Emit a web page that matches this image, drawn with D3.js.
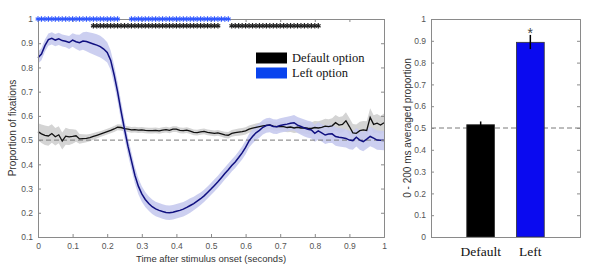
<!DOCTYPE html>
<html>
<head>
<meta charset="utf-8">
<script src="https://cdn.jsdelivr.net/npm/d3@7"></script>
<style>
  body { margin: 0; background: #fff; }
  svg { display: block; }
  .tick text { font-family: "Liberation Sans", Arial, sans-serif; font-size: 8.5px; fill: #555; }
</style>
</head>
<body>
<div id="plot"></div>
<script>
// time course, sampled every 10 ms from 0 to 1 s
let leftMean = [0.84,0.855,0.89,0.915,0.92,0.913,0.918,0.911,0.908,0.903,
  0.913,0.906,0.902,0.909,0.907,0.902,0.897,0.892,0.886,0.876,
  0.862,0.83,0.77,0.70,0.62,0.545,0.475,0.415,0.355,0.31,
  0.278,0.255,0.238,0.225,0.216,0.21,0.205,0.201,0.2,0.202,
  0.206,0.21,0.215,0.222,0.23,0.238,0.248,0.258,0.27,0.284,
  0.298,0.313,0.328,0.345,0.362,0.378,0.395,0.41,0.428,0.447,
  0.47,0.497,0.515,0.53,0.54,0.553,0.56,0.562,0.556,0.555,
  0.56,0.563,0.566,0.57,0.572,0.562,0.556,0.55,0.545,0.542,
  0.528,0.538,0.53,0.521,0.525,0.526,0.515,0.512,0.51,0.507,
  0.5,0.498,0.512,0.5,0.494,0.504,0.515,0.508,0.5,0.499,0.498];
let leftErr = [0.025,0.025,0.025,0.025,0.025,0.025,0.025,0.025,0.025,0.027,
  0.028,0.03,0.033,0.036,0.04,0.042,0.044,0.045,0.045,0.044,
  0.042,0.04,0.04,0.04,0.04,0.038,0.036,0.035,0.034,0.033,
  0.032,0.031,0.03,0.03,0.03,0.03,0.03,0.03,0.03,0.03,
  0.03,0.03,0.03,0.03,0.03,0.028,0.027,0.026,0.025,0.025,
  0.025,0.025,0.025,0.025,0.025,0.025,0.025,0.025,0.026,0.027,
  0.028,0.028,0.029,0.03,0.03,0.03,0.03,0.03,0.03,0.03,
  0.03,0.03,0.03,0.03,0.032,0.033,0.034,0.035,0.035,0.035,
  0.035,0.036,0.036,0.037,0.037,0.038,0.038,0.038,0.038,0.038,
  0.038,0.038,0.038,0.04,0.04,0.04,0.04,0.04,0.04,0.04,0.04];
let defaultMean = [0.535,0.526,0.52,0.517,0.527,0.514,0.522,0.496,0.516,0.513,
  0.515,0.518,0.505,0.506,0.507,0.51,0.515,0.52,0.525,0.53,
  0.535,0.54,0.546,0.553,0.552,0.547,0.545,0.542,0.543,0.541,
  0.542,0.54,0.539,0.539,0.54,0.538,0.541,0.543,0.54,0.545,
  0.545,0.54,0.539,0.541,0.537,0.532,0.531,0.534,0.536,0.532,
  0.53,0.528,0.53,0.526,0.522,0.52,0.528,0.531,0.533,0.535,
  0.538,0.545,0.549,0.553,0.556,0.559,0.561,0.563,0.558,0.556,
  0.557,0.556,0.552,0.554,0.55,0.553,0.55,0.551,0.549,0.548,
  0.552,0.55,0.553,0.558,0.556,0.559,0.572,0.562,0.565,0.58,
  0.556,0.53,0.528,0.539,0.542,0.54,0.594,0.565,0.57,0.562,0.572];
let defaultErr = [0.035,0.038,0.04,0.04,0.038,0.036,0.035,0.035,0.035,0.033,
  0.03,0.025,0.02,0.018,0.016,0.015,0.014,0.013,0.012,0.012,
  0.012,0.012,0.012,0.012,0.012,0.012,0.012,0.012,0.012,0.012,
  0.012,0.012,0.012,0.012,0.012,0.012,0.012,0.012,0.012,0.012,
  0.012,0.012,0.012,0.012,0.012,0.012,0.012,0.012,0.012,0.012,
  0.012,0.012,0.012,0.012,0.013,0.013,0.014,0.014,0.015,0.015,
  0.015,0.015,0.015,0.016,0.016,0.016,0.017,0.017,0.018,0.018,
  0.018,0.019,0.02,0.02,0.021,0.022,0.023,0.024,0.025,0.026,
  0.027,0.028,0.029,0.03,0.03,0.031,0.032,0.033,0.034,0.035,
  0.035,0.036,0.036,0.037,0.037,0.038,0.038,0.038,0.038,0.038,0.038];

// significance windows (seconds)
let leftSig = [[0.0, 0.235], [0.27, 0.555]];
let defaultSig = [[0.16, 0.525], [0.56, 0.81]];

let timeTicks = [0,0.1,0.2,0.3,0.4,0.5,0.6,0.7,0.8,0.9,1];
let propTicks = [0.1,0.2,0.3,0.4,0.5,0.6,0.7,0.8,0.9,1];

// bar chart: 0-200 ms averaged proportion
let barNames = ['Default', 'Left'];
let barValues = [0.515, 0.893];
let barErrLo = [0.505, 0.862];
let barErrHi = [0.53, 0.927];
let barTicks = [0,0.1,0.2,0.3,0.4,0.5,0.6,0.7,0.8,0.9,1];

let svg = d3.select('#plot').append('svg')
  .attr('width', 599).attr('height', 277);

let axisColor = '#8a8a8a';
let time = leftMean.map((d,i) => i/100);

// ---------- left panel ----------
let x = d3.scaleLinear().domain([0,1]).range([38,384]);
let y = d3.scaleLinear().domain([0.1,1]).range([237,19]);

let left = svg.append('g');

let band = d3.area().x((d,i) => x(time[i]));
let line = d3.line().x((d,i) => x(time[i]));

left.append('path')
  .datum(defaultMean)
  .attr('fill', '#d4d4d4')
  .attr('d', band.y0((d,i) => y(d - defaultErr[i])).y1((d,i) => y(d + defaultErr[i])));

left.append('path')
  .datum(leftMean)
  .attr('fill', '#c6caee')
  .attr('opacity', 0.9)
  .attr('d', band.y0((d,i) => y(d - leftErr[i])).y1((d,i) => y(d + leftErr[i])));

left.append('line')
  .attr('x1', x(0)).attr('x2', x(1))
  .attr('y1', y(0.5)).attr('y2', y(0.5))
  .attr('stroke', '#7a7a7a').attr('stroke-dasharray', '5,3').attr('stroke-width', 1);

left.append('path')
  .datum(defaultMean)
  .attr('fill', 'none').attr('stroke', '#111').attr('stroke-width', 1.3)
  .attr('d', line.y(d => y(d)));

left.append('path')
  .datum(leftMean)
  .attr('fill', 'none').attr('stroke', '#101080').attr('stroke-width', 1.5)
  .attr('d', line.y(d => y(d)));

// axes with inward ticks, boxed like matlab
function boxAxes(g, xs, ys, xt, yt, showX) {
  let ax = d3.axisBottom(xs).tickValues(xt).tickSize(-3).tickPadding(6)
    .tickFormat(d3.format('~g'));
  let ay = d3.axisLeft(ys).tickValues(yt).tickSize(-3).tickPadding(5)
    .tickFormat(d3.format('~g'));
  let gx = g.append('g').attr('transform', `translate(0,${ys.range()[0]})`).call(ax);
  if (!showX) gx.selectAll('.tick').remove();
  g.append('g').attr('transform', `translate(${xs.range()[0]},0)`).call(ay);
  g.append('g').attr('transform', `translate(0,${ys.range()[1]})`)
    .call(d3.axisTop(xs).tickValues(showX ? xt : []).tickSize(-3).tickFormat(''));
  g.append('g').attr('transform', `translate(${xs.range()[1]},0)`)
    .call(d3.axisRight(ys).tickValues(yt).tickSize(-3).tickFormat(''));
  g.selectAll('.domain').attr('stroke', axisColor);
  g.selectAll('.tick line').attr('stroke', axisColor);
}
boxAxes(left, x, y, timeTicks, propTicks, true);

// significance asterisks
function star(r) {
  let p = '';
  for (let k = 0; k < 3; k++) {
    let a = Math.PI / 2 + k * Math.PI / 3;
    let dx = r * Math.cos(a), dy = r * Math.sin(a);
    p += `M${-dx},${-dy}L${dx},${dy}`;
  }
  return p;
}
function sigTimes(windows) {
  return time.filter(t => windows.some(w => t >= w[0] - 1e-9 && t <= w[1] + 1e-9));
}
left.selectAll('.starL')
  .data(sigTimes(leftSig))
  .join('path')
    .attr('class', 'starL')
    .attr('transform', d => `translate(${x(d)},${y(1)})`)
    .attr('d', star(2.7))
    .attr('stroke', '#3058ff').attr('stroke-width', 1.2);
left.selectAll('.starD')
  .data(sigTimes(defaultSig))
  .join('path')
    .attr('class', 'starD')
    .attr('transform', d => `translate(${x(d)},${y(0.972)})`)
    .attr('d', star(2.7))
    .attr('stroke', '#222').attr('stroke-width', 1.2);

// legend
let legend = left.append('g').attr('font-family', '"Liberation Serif", "Times New Roman", serif')
  .attr('font-size', 12.5).attr('fill', '#111');
[['Default option', '#000'], ['Left option', '#0a44ee']].forEach(function(item, i){
  legend.append('rect')
    .attr('x', 256).attr('y', 52.5 + i * 15).attr('width', 31).attr('height', 11)
    .attr('fill', item[1]);
  legend.append('text')
    .attr('x', 292).attr('y', 62 + i * 15)
    .text(item[0]);
});

left.append('text')
  .attr('x', 211).attr('y', 262)
  .attr('text-anchor', 'middle')
  .attr('font-family', '"Liberation Sans", Arial, sans-serif')
  .attr('font-size', 9.5).attr('fill', '#333')
  .text('Time after stimulus onset (seconds)');

left.append('text')
  .attr('transform', 'translate(16,128) rotate(-90)')
  .attr('text-anchor', 'middle')
  .attr('font-family', '"Liberation Sans", Arial, sans-serif')
  .attr('font-size', 10).attr('fill', '#333')
  .text('Proportion of fixations');

// ---------- right panel ----------
let bx = d3.scaleLinear().domain([0,3]).range([431,580]);
let by = d3.scaleLinear().domain([0,1]).range([237,19]);
let right = svg.append('g');

right.append('line')
  .attr('x1', bx(0)).attr('x2', bx(3))
  .attr('y1', by(0.5)).attr('y2', by(0.5))
  .attr('stroke', '#7a7a7a').attr('stroke-dasharray', '5,3');

let barW = 0.56;
right.selectAll('.bar')
  .data(barValues)
  .join('rect')
    .attr('class', 'bar')
    .attr('x', (d,i) => bx(i + 1 - barW / 2))
    .attr('width', bx(barW) - bx(0))
    .attr('y', d => by(d))
    .attr('height', d => by(0) - by(d))
    .attr('fill', (d,i) => i === 0 ? '#000' : '#0a0af0')
    .attr('stroke', '#333').attr('stroke-width', 0.8);

right.selectAll('.err')
  .data(barValues)
  .join('line')
    .attr('class', 'err')
    .attr('x1', (d,i) => bx(i + 1)).attr('x2', (d,i) => bx(i + 1))
    .attr('y1', (d,i) => by(barErrLo[i])).attr('y2', (d,i) => by(barErrHi[i]))
    .attr('stroke', '#000').attr('stroke-width', 1.5);

boxAxes(right, bx, by, [], barTicks, false);

right.append('text')
  .attr('x', bx(2)).attr('y', by(barErrHi[1]) + 3)
  .attr('text-anchor', 'middle')
  .attr('font-family', '"Liberation Sans", Arial, sans-serif')
  .attr('font-size', 14).attr('fill', '#444')
  .text('*');

right.selectAll('.barLabel')
  .data(barNames)
  .join('text')
    .attr('class', 'barLabel')
    .attr('x', (d,i) => bx(i + 1)).attr('y', 256)
    .attr('text-anchor', 'middle')
    .attr('font-family', '"Liberation Serif", "Times New Roman", serif')
    .attr('font-size', 13.5).attr('fill', '#111')
    .text(d => d);

right.append('text')
  .attr('transform', 'translate(411,128) rotate(-90)')
  .attr('text-anchor', 'middle')
  .attr('font-family', '"Liberation Sans", Arial, sans-serif')
  .attr('font-size', 10).attr('fill', '#333')
  .text('0 - 200 ms averaged proportion');
</script>
</body>
</html>
